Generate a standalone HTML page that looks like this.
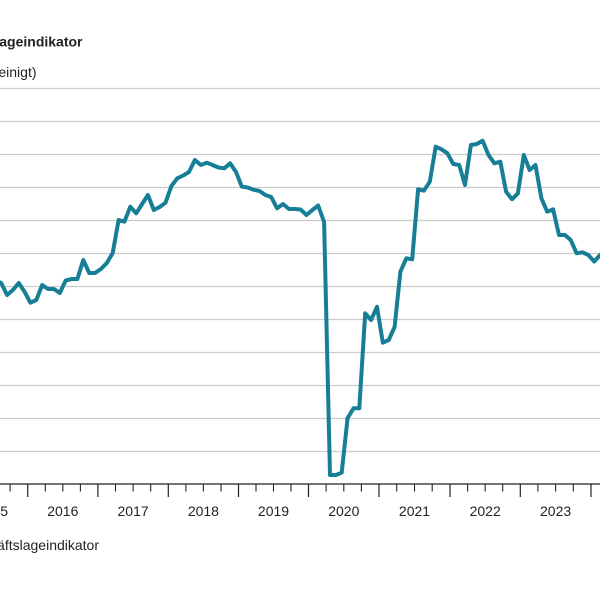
<!DOCTYPE html>
<html>
<head>
<meta charset="utf-8">
<style>
html,body{margin:0;padding:0;background:#fff;}
svg{display:block;}
text{font-family:"Liberation Sans",Arial,sans-serif;fill:#222;}
</style>
</head>
<body>
<svg width="600" height="600" viewBox="0 0 600 600" xmlns="http://www.w3.org/2000/svg">
<rect width="600" height="600" fill="#fff"/>
<text x="82.5" y="46.5" font-size="14" font-weight="bold" text-anchor="end">ifo Geschäftslageindikator</text>
<text x="36.5" y="77" font-size="14" text-anchor="end">(Salden, saisonbereinigt)</text>
<g stroke="#cccccc" stroke-width="1.3">
<line x1="0" x2="600" y1="88.5" y2="88.5"/>
<line x1="0" x2="600" y1="121.5" y2="121.5"/>
<line x1="0" x2="600" y1="154.5" y2="154.5"/>
<line x1="0" x2="600" y1="187.5" y2="187.5"/>
<line x1="0" x2="600" y1="220.5" y2="220.5"/>
<line x1="0" x2="600" y1="253.5" y2="253.5"/>
<line x1="0" x2="600" y1="286.5" y2="286.5"/>
<line x1="0" x2="600" y1="319.5" y2="319.5"/>
<line x1="0" x2="600" y1="352.5" y2="352.5"/>
<line x1="0" x2="600" y1="385.5" y2="385.5"/>
<line x1="0" x2="600" y1="418.5" y2="418.5"/>
<line x1="0" x2="600" y1="451.5" y2="451.5"/>
</g>
<polyline fill="none" stroke="#167f96" stroke-width="4" stroke-linejoin="round" stroke-linecap="round" points="
-4.7,280 1.2,283 7.1,295 12.9,290 18.8,283 24.7,292
30.4,302.7 36.3,300 42.2,285 48.1,289 54,289 59.8,293 65.7,280.5 71.6,279 77.4,279 83.3,260 89.2,273 95.1,273
100.9,269 106.8,263 112.7,253 118.6,220 124.4,221.7 130.3,206.7 136.2,213.3 142.1,204 147.9,195 153.8,210 159.7,207 165.5,202.7
171.4,186 177.3,178.3 183.2,175.5 189,172 194.9,160 200.8,165 206.7,162.7 212.5,165 218.4,167.5 224.3,168.3 230.1,163.3 236,172
241.9,186.7 247.8,187.5 253.6,189.8 259.5,191 265.4,195 271.2,197 277.1,208.3 283,204 288.9,209 294.7,209 300.6,209.5 306.5,215
312.4,210 318.2,205.5 324.1,222 330,475 335.9,475 341.7,472.7 347.6,418 353.5,408.3 359.3,408.3 365.2,313.3 371.1,320 377,306.7
382.8,342.7 388.7,340 394.6,327 400.4,271.7 406.3,258.3 412.2,259.3 418.1,189.3 423.9,190.7 429.8,181.7 435.7,146.7 441.5,149.3 447.4,153.3
453.3,164 459.2,165 465,185 470.9,145 476.8,144 482.6,140.7 488.5,155 494.4,163.3 500.3,161.7 506.1,191.7 512,199.3 517.9,193.3
523.8,155 529.6,170 535.5,165 541.4,198.3 547.2,211.7 553.1,209.3 559,235 564.9,235 570.7,240 576.6,253.3 582.5,252.3 588.3,255
594.2,261.5 600.1,255 606,252"/>
<line x1="0" x2="600" y1="484" y2="484" stroke="#222" stroke-width="1.2"/>
<g stroke="#222" stroke-width="1.2">
<line x1="27.7" x2="27.7" y1="484" y2="497"/>
<line x1="97.9" x2="97.9" y1="484" y2="497"/>
<line x1="168.3" x2="168.3" y1="484" y2="497"/>
<line x1="238.5" x2="238.5" y1="484" y2="497"/>
<line x1="308.5" x2="308.5" y1="484" y2="497"/>
<line x1="379" x2="379" y1="484" y2="497"/>
<line x1="450" x2="450" y1="484" y2="497"/>
<line x1="520.3" x2="520.3" y1="484" y2="497"/>
<line x1="591" x2="591" y1="484" y2="497"/>
</g>
<g stroke="#222" stroke-width="1.1">
<line x1="10.1" x2="10.1" y1="484" y2="491.5"/>
<line x1="45.3" x2="45.3" y1="484" y2="491.5"/>
<line x1="62.8" x2="62.8" y1="484" y2="491.5"/>
<line x1="80.4" x2="80.4" y1="484" y2="491.5"/>
<line x1="115.5" x2="115.5" y1="484" y2="491.5"/>
<line x1="133.1" x2="133.1" y1="484" y2="491.5"/>
<line x1="150.7" x2="150.7" y1="484" y2="491.5"/>
<line x1="185.9" x2="185.9" y1="484" y2="491.5"/>
<line x1="203.4" x2="203.4" y1="484" y2="491.5"/>
<line x1="221" x2="221" y1="484" y2="491.5"/>
<line x1="256" x2="256" y1="484" y2="491.5"/>
<line x1="273.5" x2="273.5" y1="484" y2="491.5"/>
<line x1="291" x2="291" y1="484" y2="491.5"/>
<line x1="326.1" x2="326.1" y1="484" y2="491.5"/>
<line x1="343.8" x2="343.8" y1="484" y2="491.5"/>
<line x1="361.4" x2="361.4" y1="484" y2="491.5"/>
<line x1="396.7" x2="396.7" y1="484" y2="491.5"/>
<line x1="414.5" x2="414.5" y1="484" y2="491.5"/>
<line x1="432.2" x2="432.2" y1="484" y2="491.5"/>
<line x1="467.6" x2="467.6" y1="484" y2="491.5"/>
<line x1="485.2" x2="485.2" y1="484" y2="491.5"/>
<line x1="502.7" x2="502.7" y1="484" y2="491.5"/>
<line x1="537.9" x2="537.9" y1="484" y2="491.5"/>
<line x1="555.6" x2="555.6" y1="484" y2="491.5"/>
<line x1="573.3" x2="573.3" y1="484" y2="491.5"/>
</g>
<g font-size="14" text-anchor="middle">
<text x="-7.5" y="516">2015</text>
<text x="62.8" y="516">2016</text>
<text x="133.1" y="516">2017</text>
<text x="203.4" y="516">2018</text>
<text x="273.5" y="516">2019</text>
<text x="343.8" y="516">2020</text>
<text x="414.5" y="516">2021</text>
<text x="485.2" y="516">2022</text>
<text x="555.6" y="516">2023</text>
</g>
<text x="99" y="550" font-size="14" text-anchor="end">ifo Geschäftslageindikator</text>
</svg>
</body>
</html>
